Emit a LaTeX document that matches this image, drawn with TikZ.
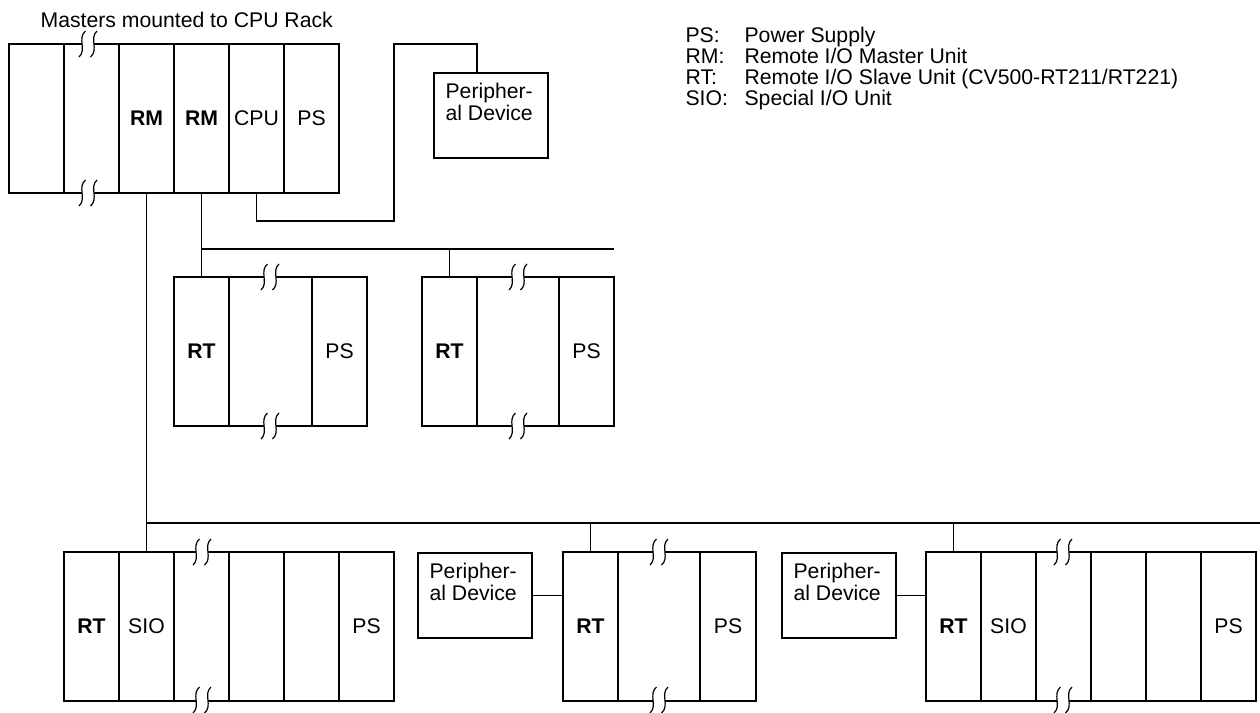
\documentclass[tikz,border=0pt]{standalone}
\usepackage{fontspec}
\setmainfont{Liberation Sans}

% break mark on a rack edge, centred at (x,y)
\newcommand{\rackbreak}[2]{%
  \fill[white] (#1-6,#2-2) rectangle (#1+6,#2+2);
  \draw (#1-2.5,#2-13) .. controls (#1-11,#2-6) and (#1-1,#2+6) .. (#1-9,#2+13);
  \draw (#1+9,#2-13) .. controls (#1+1,#2-6) and (#1+11,#2+6) .. (#1+2.5,#2+13);
}

\tikzset{
  slot/.style={draw, rectangle, anchor=north west, inner sep=0pt, outer sep=0pt,
    minimum width=#1, minimum height=74.5pt},
  slot/.default=27.5pt,
  device/.style={draw, rectangle, anchor=north west, inner sep=0pt, outer sep=0pt,
    minimum width=57pt, minimum height=42.5pt},
  devtext/.style={anchor=north west, inner sep=0pt, align=left,
    font=\fontsize{10.6}{11}\selectfont},
}

\begin{document}
\begin{tikzpicture}[x=0.5pt, y=-0.5pt, line width=0.6pt,
    every node/.append style={font=\fontsize{10.6}{12.7}\selectfont}]
    \useasboundingbox (0,0) rectangle (1260,713);

    % CPU rack with the masters
    \node[anchor=base west, inner sep=0pt] (title) at (40,27) {Masters mounted to CPU Rack};
    \foreach \x/\n/\t in {9/1/{}, 64/2/{}, 119/3/\textbf{RM}, 174/4/\textbf{RM}, 229/5/CPU, 284/6/PS} {
        \node[slot] (cpu\n) at (\x,44) {\t};
    }
    \rackbreak{88}{44}
    \rackbreak{88}{193}

    % peripheral device on the CPU
    \node[device] (pd0) at (434,73) {};
    \node[devtext] (pd0txt) at ([shift={(11,10)}]pd0.north west) {Peripher-\\al Device};
    \coordinate (pdtap) at ([xshift=21.5pt]pd0.north west);
    \draw (cpu5.south) |- (394,221) -- (394,44) -| (pdtap);

    % legend
    \foreach \k/\t [count=\i] in {PS:/{Power Supply}, RM:/{Remote I/O Master Unit},
        RT:/{Remote I/O Slave Unit (CV500-RT211/RT221)}, SIO:/{Special I/O Unit}} {
        \node[anchor=base west, inner sep=0pt] (key\i) at (685,{42+21*(\i-1)}) {\k};
        \node[anchor=base west, inner sep=0pt] (txt\i) at (744,{42+21*(\i-1)}) {\t};
    }

    % upper line of slaves
    \node[slot] (p1) at (174,277) {\textbf{RT}};
    \node[slot=41.5pt] (p2) at (229,277) {};
    \node[slot] (p3) at (312,277) {PS};
    \node[slot] (q1) at (422,277) {\textbf{RT}};
    \node[slot=41pt] (q2) at (477,277) {};
    \node[slot] (q3) at (559,277) {PS};
    \rackbreak{270}{277}
    \rackbreak{270}{426}
    \rackbreak{518}{277}
    \rackbreak{518}{426}

    \coordinate (midbus) at (614,249);
    \draw (cpu4.south) -- (p1.north);
    \draw (cpu4.south |- midbus) -- (midbus);
    \draw (q1.north) -- (q1.north |- midbus);

    % lower line of slaves
    \foreach \x/\n/\t in {64/1/\textbf{RT}, 119/2/SIO, 174/3/{}, 229/4/{}, 284/5/{}, 339/6/PS} {
        \node[slot] (a\n) at (\x,552) {\t};
    }
    \node[slot] (b1) at (563,552) {\textbf{RT}};
    \node[slot=41pt] (b2) at (618,552) {};
    \node[slot=28pt] (b3) at (700,552) {PS};
    \foreach \x/\n/\t in {926/1/\textbf{RT}, 981/2/SIO, 1036/3/{}, 1091/4/{}, 1146/5/{}, 1201/6/PS} {
        \node[slot] (c\n) at (\x,552) {\t};
    }
    \rackbreak{202}{552}
    \rackbreak{202}{700}
    \rackbreak{659}{552}
    \rackbreak{659}{700}
    \rackbreak{1063}{552}
    \rackbreak{1063}{700}

    \coordinate (lowbus) at (1260,523);
    \draw (cpu3.south) -- (a2.north);
    \draw (cpu3.south |- lowbus) -- (lowbus);
    \draw (b1.north) -- (b1.north |- lowbus);
    \draw (c1.north) -- (c1.north |- lowbus);

    % peripheral devices on the slaves
    \node[device] (pdb) at (418,553) {};
    \node[devtext] (pdbtxt) at ([shift={(11,10)}]pdb.north west) {Peripher-\\al Device};
    \draw (pdb.east) -- (pdb.east -| b1.west);
    \node[device] (pdc) at (782,553) {};
    \node[devtext] (pdctxt) at ([shift={(11,10)}]pdc.north west) {Peripher-\\al Device};
    \draw (pdc.east) -- (pdc.east -| c1.west);
\end{tikzpicture}
\end{document}
